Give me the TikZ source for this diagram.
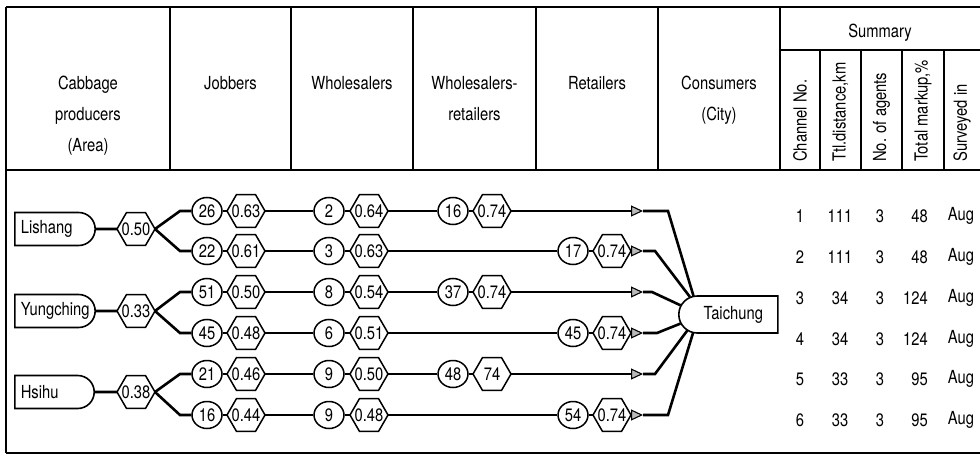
\documentclass[tikz,border=0pt]{standalone}
\usepackage{fontspec}
\setmainfont{TeX Gyre Heros}[FakeStretch=0.82]
\usetikzlibrary{shapes.geometric,shapes.misc,arrows.meta,calc}
\newcommand{\hxt}[1]{\smash{\makebox[0pt]{\raisebox{-0.36em}{#1}}}}
\begin{document}
\begin{tikzpicture}[x=1pt,y=-1pt,
  every node/.style={font=\fontsize{18}{20}\selectfont, inner sep=0pt},
  tbl/.style={line width=1.6pt},
  flow/.style={line width=2.6pt},
  hexa/.style={draw, line width=1.5pt, regular polygon, regular polygon sides=6, minimum size=38pt, inner sep=0pt, outer sep=0pt},
  circ/.style={draw, line width=1.5pt, ellipse, minimum width=30pt, minimum height=27pt, inner sep=0pt},
  prod/.style={draw, line width=1.6pt, rounded rectangle, rounded rectangle left arc=none, minimum height=33pt, text width=66pt, align=left, inner xsep=6pt, anchor=west},
  city/.style={draw, line width=1.6pt, rounded rectangle, rounded rectangle right arc=none, minimum height=37pt, minimum width=99pt, anchor=west},
  hd/.style={anchor=base},
  rot/.style={rotate=90, anchor=west},
  tip/.style={-{Triangle[length=12pt,width=11pt,fill=gray!55,line width=1.1pt]}}
]
\useasboundingbox (0,0) rectangle (980,460);
% table frame
\draw[tbl] (6,7) -- (980,7);
\draw[tbl] (6,7) -- (6,453);
\draw[tbl] (6,453) -- (980,453);
\draw[tbl] (6,170) -- (980,170);
\draw[tbl] (780,50) -- (980,50);
\foreach \x in {170,291,413,536,658,780} \draw[tbl] (\x,7) -- (\x,170);
\foreach \x in {820,861,902,944} \draw[tbl] (\x,50) -- (\x,170);
% headers
\node[hd] (h1a) at (88,89) {Cabbage};
\node[hd] (h1b) at (88,120) {producers};
\node[hd] (h1c) at (88,151) {(Area)};
\node[hd] (h2) at (230.5,89) {Jobbers};
\node[hd] (h3) at (352,89) {Wholesalers};
\node[hd] (h4a) at (474.5,89) {Wholesalers-};
\node[hd] (h4b) at (474.5,120) {retailers};
\node[hd] (h5) at (597,89) {Retailers};
\node[hd] (h6a) at (719,89) {Consumers};
\node[hd] (h6b) at (719,120) {(City)};
\node[hd] (hs) at (880,38) {Summary};
\node[rot] (s1) at (800,162) {Channel No.};
\node[rot] (s2) at (840.5,162) {Ttl.distance,km};
\node[rot] (s3) at (881.5,162) {No. of agents};
\node[rot] (s4) at (923,162) {Total markup,\%};
\node[rot] (s5) at (962,162) {Surveyed in};
% producers
\node[prod] (p1) at (14,229) {Lishang};
\node[prod] (p2) at (14,311) {Yungching};
\node[prod] (p3) at (14,392) {Hsihu};
\node[hexa] (ph1) at (136,229) {\hxt{0.50}};
\node[hexa] (ph2) at (136,311) {\hxt{0.33}};
\node[hexa] (ph3) at (136,392) {\hxt{0.38}};
\foreach \p in {1,2,3} \draw[flow] (p\p) -- (ph\p);
% consumer
\node[city] (tc) at (678,314.5) {\hspace*{8pt}Taichung};
\coordinate (tcc) at ($(tc.west)+(18.5,0)$);
\coordinate (t1) at ($(tcc)+(-3,-18.5)$);
\coordinate (t2) at ($(tcc)+(-6.5,-17.5)$);
\coordinate (t3) at ($(tcc)+(-16,-9.2)$);
\coordinate (t4) at ($(tcc)+(-16.1,9.1)$);
\coordinate (t5) at ($(tcc)+(-9.2,16)$);
\coordinate (t6) at ($(tcc)+(-3.4,18.2)$);
% channels
\foreach \i/\y/\p/\jc/\jh/\wc/\wh/\tx/\xc/\xh/\bx in {
 1/211/1/26/0.63/2/0.64/453/16/0.74/668,
 2/251/1/22/0.61/3/0.63/573/17/0.74/655,
 3/292/2/51/0.50/8/0.54/453/37/0.74/652,
 4/333/2/45/0.48/6/0.51/573/45/0.74/657,
 5/374/3/21/0.46/9/0.50/453/48/74/655,
 6/415/3/16/0.44/9/0.48/573/54/0.74/668}{
  \node[circ] (j\i) at (207,\y) {\jc};
  \node[hexa] (jh\i) at (246,\y) {\hxt{\jh}};
  \node[circ] (w\i) at (329,\y) {\wc};
  \node[hexa] (wh\i) at (369,\y) {\hxt{\wh}};
  \node[circ] (x\i) at (\tx,\y) {\xc};
  \node[hexa] (xh\i) at (\tx+39,\y) {\hxt{\xh}};
  \coordinate (k\i) at (180,\y);
  \coordinate (a\i) at (643,\y);
  \coordinate (b\i) at (\bx,\y);
  \draw[flow] (ph\p.east) -- (k\i) -- (j\i);
  \draw[flow] (j\i) -- (jh\i);
  \draw[flow] (jh\i) -- (w\i);
  \draw[flow] (w\i) -- (wh\i);
  \draw[flow] (wh\i) -- (x\i);
  \draw[flow] (x\i) -- (xh\i);
  \draw[flow,tip] (xh\i) -- (a\i);
  \draw[flow] (a\i) -- (b\i) -- (t\i);
}
% summary values
\foreach \i/\y/\d/\n/\m in {1/216/111/3/48, 2/257/111/3/48, 3/298/34/3/124, 4/339/34/3/124, 5/379/33/3/95, 6/420/33/3/95}{
  \node (c\i) at (800,\y) {\i};
  \node (d\i) at (840,\y) {\d};
  \node (n\i) at (880,\y) {\n};
  \node[anchor=east] (m\i) at (928,\y) {\m};
  \node (v\i) at (961,\y) {Aug};
}
\end{tikzpicture}
\end{document}
